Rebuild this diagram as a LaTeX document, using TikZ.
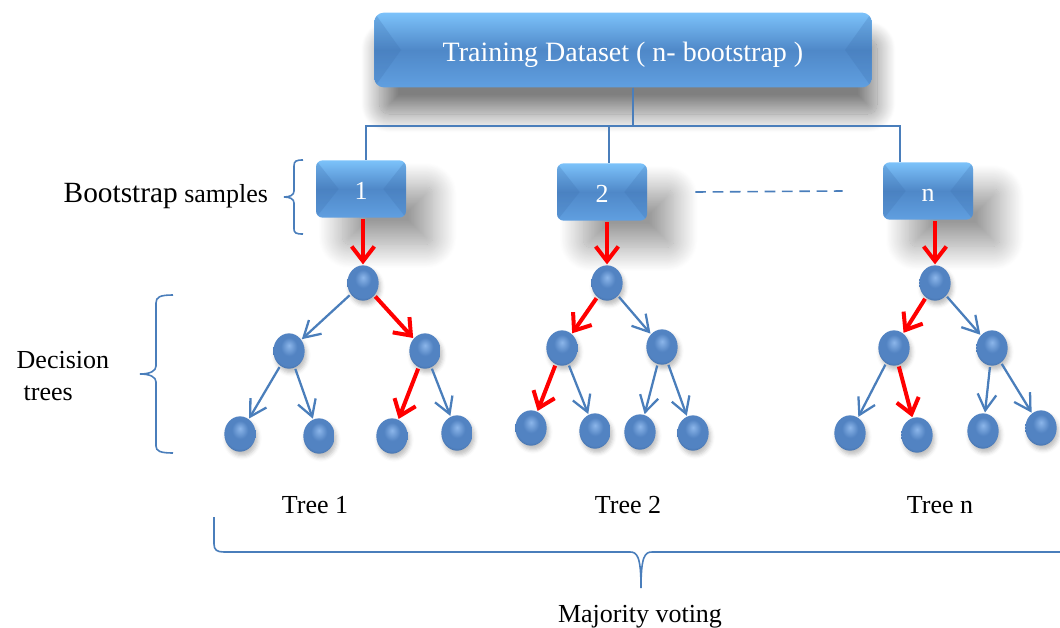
\documentclass[tikz,border=0pt]{standalone}
\usepackage{fontspec}
\setmainfont{Liberation Serif}
\usetikzlibrary{arrows.meta,shapes.geometric,shadows.blur}
\definecolor{BoxHi}{HTML}{7CC2FA}
\definecolor{BoxFace}{HTML}{4F88C8}
\definecolor{BoxLo}{HTML}{609FE0}
\definecolor{BoxSide}{HTML}{3F72B0}
\definecolor{Link}{HTML}{4A7EBB}
\definecolor{BeadHi}{HTML}{8CB6EA}
\definecolor{BeadMid}{HTML}{5283C2}
\definecolor{BeadLo}{HTML}{365D90}
\pgfdeclareradialshading{bead}{\pgfpoint{0bp}{8bp}}{color(0bp)=(BeadHi);
  color(13bp)=(BeadMid);color(25bp)=(BeadMid);color(34bp)=(BeadLo);color(50bp)=(BeadLo)}

\begin{document}
\begin{tikzpicture}[x=0.75pt,y=-0.75pt,
  every node/.style={font=\fontsize{19.5}{24}\selectfont},
  bevel/.style={path picture={
    \fill[sharp corners,BoxSide,opacity=.25] (path picture bounding box.north west)
      -- ([xshift=#1]path picture bounding box.west) -- (path picture bounding box.south west) -- cycle;
    \fill[sharp corners,BoxSide,opacity=.25] (path picture bounding box.north east)
      -- ([xshift=-#1]path picture bounding box.east) -- (path picture bounding box.south east) -- cycle;}},
  tbox/.style={rounded corners=7pt,top color=BoxHi,bottom color=BoxLo,middle color=BoxFace,
    text=white,minimum width=373pt,minimum height=56pt,bevel=20pt,
    font=\fontsize{21}{25}\selectfont,text height=22pt,text depth=5pt,
    blur shadow={shadow xshift=4pt,shadow yshift=-20pt,shadow blur radius=14pt,
      shadow blur steps=30,shadow opacity=50}},
  sbox/.style={rounded corners=5pt,top color=BoxHi,bottom color=BoxLo,middle color=BoxFace,
    text=white,minimum width=67.5pt,minimum height=43pt,bevel=17pt,text height=18pt,text depth=2pt,
    blur shadow={shadow xshift=20pt,shadow yshift=-20pt,shadow blur radius=18pt,
      shadow blur steps=30,shadow opacity=40}},
  bead/.style={ellipse,inner sep=0pt,minimum width=23.5pt,minimum height=26.5pt,shading=bead,
    blur shadow={shadow xshift=1.5pt,shadow yshift=-3pt,shadow blur radius=3pt,shadow opacity=25}},
  link/.style={draw=Link,line width=1.2pt},
  barrow/.style={draw=Link,line width=1.7pt,-{Straight Barb[length=12pt,width=14pt]},
    shorten <=1pt,shorten >=0.5pt},
  rarrow/.style={draw=red,line width=3pt,-{Straight Barb[length=11pt,width=17pt]},
    shorten <=1pt,shorten >=0.5pt}]
\useasboundingbox (0,0) rectangle (1060,628);

% dataset and bootstrap samples
\node[tbox] (top) at (623,50) {Training Dataset ( n- bootstrap )};
\node[sbox] (b1) at (361,189) {1};
\node[sbox] (b2) at (602,192) {2};
\node[sbox] (bn) at (928,191) {n};
\coordinate (split) at (633,126);
\draw[link] (top.south -| split) -- (split);
\draw[link] (split) -| ([xshift=3.75pt]b1.north);
\draw[link] (split) -| ([xshift=5.25pt]b2.north);
\draw[link] (split) -| ([xshift=-21pt]bn.north);
\draw[link,dash pattern=on 8pt off 5pt] ([xshift=36pt]b2.east) -- ([xshift=-30pt]bn.west);

% tree 1
\node[bead] (t1r) at (363,283) {};
\node[bead] (t1a) at (289,351) {};
\node[bead] (t1b) at (425,351) {};
\node[bead] (t1aa) at (240,434) {};
\node[bead] (t1ab) at (319,436) {};
\node[bead] (t1ba) at (392,436) {};
\node[bead] (t1bb) at (457,433) {};
% tree 2
\node[bead] (t2r) at (607,283) {};
\node[bead] (t2a) at (562,348) {};
\node[bead] (t2b) at (662,347) {};
\node[bead] (t2aa) at (531,428) {};
\node[bead] (t2ab) at (595,431) {};
\node[bead] (t2ba) at (640,432) {};
\node[bead] (t2bb) at (693,433) {};
% tree n
\node[bead] (tnr) at (935,283) {};
\node[bead] (tna) at (894,348) {};
\node[bead] (tnb) at (992,348) {};
\node[bead] (tnaa) at (850,433) {};
\node[bead] (tnab) at (917,435) {};
\node[bead] (tnba) at (983,431) {};
\node[bead] (tnbb) at (1041,428) {};

\draw[rarrow] (b1.south -| t1r) -- (t1r.north);
\draw[rarrow] (b2.south -| t2r) -- (t2r.north);
\draw[rarrow] (bn.south -| tnr) -- (tnr.north);
\draw[barrow] (t1r) -- (t1a);
\draw[rarrow] (t1r) -- (t1b);
\draw[barrow] (t1a) -- (t1aa);
\draw[barrow] (t1a) -- (t1ab);
\draw[rarrow] (t1b) -- (t1ba);
\draw[barrow] (t1b) -- (t1bb);
\draw[rarrow] (t2r) -- (t2a);
\draw[barrow] (t2r) -- (t2b);
\draw[rarrow] (t2a) -- (t2aa);
\draw[barrow] (t2a) -- (t2ab);
\draw[barrow] (t2b) -- (t2ba);
\draw[barrow] (t2b) -- (t2bb);
\draw[rarrow] (tnr) -- (tna);
\draw[barrow] (tnr) -- (tnb);
\draw[barrow] (tna) -- (tnaa);
\draw[rarrow] (tna) -- (tnab);
\draw[barrow] (tnb) -- (tnba);
\draw[barrow] (tnb) -- (tnbb);

% labels and braces
\node[anchor=base west] (bs) at (59,202) {{\fontsize{22}{26}\selectfont Bootstrap} samples};
\node[anchor=base west] (dec) at (12,368) {Decision};
\node[anchor=base west] (trs) at (19,400) {trees};
\node[anchor=base] (l1) at (315,513) {Tree 1};
\node[anchor=base] (l2) at (628,513) {Tree 2};
\node[anchor=base] (ln) at (940,513) {Tree n};
\node[anchor=base] (vote) at (640,622) {Majority voting};
\draw[link] (303,160) .. controls (296,160) and (294,161) .. (294,166) -- (294,191)
  .. controls (294,195) and (290,197) .. (284,197) .. controls (290,197) and (294,199) .. (294,203)
  -- (294,229) .. controls (294,233) and (296,234) .. (303,234);
\draw[link] (173,295) .. controls (160,295) and (156,297) .. (156,303) -- (156,366)
  .. controls (156,371) and (150,374) .. (140,374) .. controls (150,374) and (156,377) .. (156,382)
  -- (156,446) .. controls (156,451) and (160,453) .. (173,453);
\draw[link] (214,517) -- (214,544) .. controls (214,550) and (217,552) .. (224,552) -- (630,552)
  .. controls (637,552) and (641,556) .. (641,588) .. controls (641,556) and (645,552) .. (652,552)
  -- (1066,552);
\end{tikzpicture}
\end{document}
